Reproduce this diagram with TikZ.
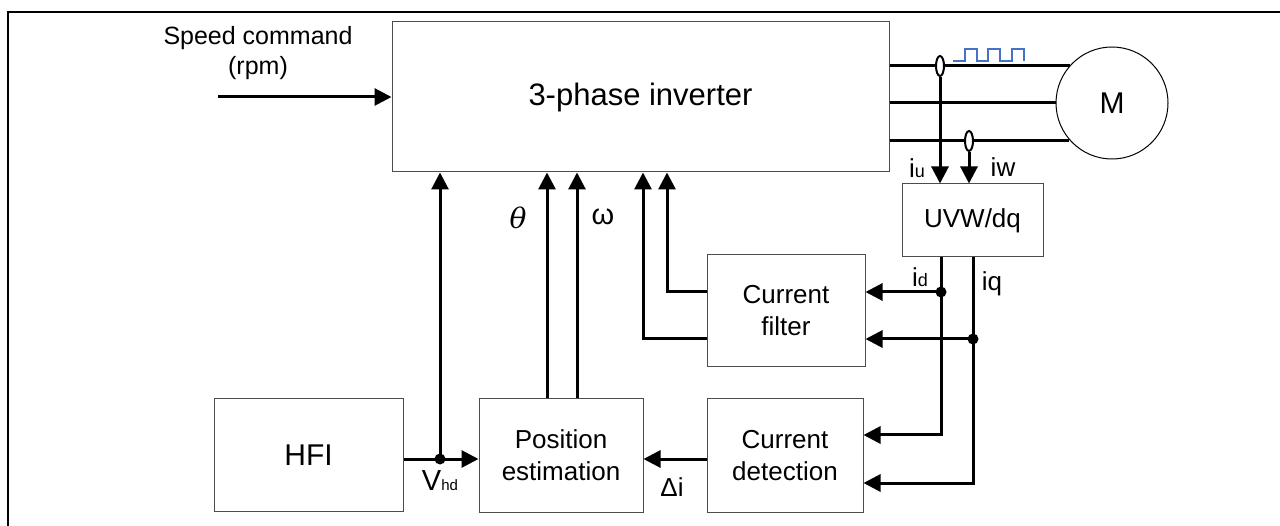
\documentclass[tikz,border=0pt]{standalone}
\usepackage{fontspec}
\setmainfont{Liberation Sans}
\newfontfamily\dvserif{DejaVu Serif}
\usetikzlibrary{arrows.meta,shapes.geometric}
\definecolor{wave}{HTML}{4472C4}
\begin{document}
\begin{tikzpicture}[x=1pt,y=-1pt,
  blk/.style={draw=black!70,line width=1pt,fill=white,inner sep=0pt,align=center,
    font=\fontsize{26}{32}\selectfont},
  conn/.style={line width=3pt},
  arr/.style={conn,-{Triangle[length=17pt,width=17pt]}},
  sensor/.style={ellipse,draw,line width=2pt,fill=white,minimum width=8pt,minimum height=20pt,inner sep=0pt},
  lbl/.style={inner sep=0pt,font=\fontsize{26}{30}\selectfont},
  dot/.style={circle,fill=black,minimum size=11pt,inner sep=0pt}]
\useasboundingbox (0,0) rectangle (1280,526);
% frame
\draw[line width=2.5pt] (8,526) -- (8,12) -- (1280,12);
% blocks
\node[blk,minimum width=497pt,minimum height=150pt,font=\fontsize{31}{36}\selectfont] (inv) at (640.5,97) {3-phase inverter};
\node[blk,minimum width=141pt,minimum height=73pt] (uvw) at (972.5,220.5) {UVW/dq};
\node[blk,minimum width=158pt,minimum height=112pt] (filt) at (786,311) {Current\\filter};
\node[blk,minimum width=156pt,minimum height=113pt] (det) at (785,455.5) {Current\\detection};
\node[blk,minimum width=164pt,minimum height=113pt] (pos) at (561,455.5) {Position\\estimation};
\node[blk,minimum width=189pt,minimum height=112pt,font=\fontsize{30}{36}\selectfont] (hfi) at (308.5,455) {HFI};
% phase lines and motor
\node[circle,draw,line width=1pt,minimum size=112pt,inner sep=0pt,font=\fontsize{30}{36}\selectfont] (M) at (1112,103) {M};
\draw[conn] (inv.east |- M.138.6) -- (M.138.6);
\draw[conn] (inv.east |- M.west) -- (M.west);
\draw[conn] (inv.east |- M.221.4) -- (M.221.4);
% PWM wave
\draw[wave,line width=1.5pt] (953,61) -- (965,61) -- (965,49) -- (977,49) -- (977,61) -- (988,61)
  -- (988,49) -- (1000,49) -- (1000,61) -- (1012,61) -- (1012,49) -- (1024,49) -- (1024,61);
% current sensors
\node[sensor] (s1) at (940,66) {};
\node[sensor] (s2) at (969,141) {};
\draw[arr] (s1.south) -- (s1.south |- uvw.north);
\draw[arr] (s2.south) -- (s2.south |- uvw.north);
\node[lbl] (liu) at (917,168) {i{\fontsize{18}{18}\selectfont u}};
\node[lbl] (liw) at (1003,167) {iw};
% speed command
\node[lbl,align=center,font=\fontsize{25}{30}\selectfont] (spd) at (258,53) {Speed command\\(rpm)};
\coordinate (sp) at (218,97);
\draw[arr] (sp) -- (inv.west |- sp);
% id / iq
\coordinate (jd) at (941,292);
\coordinate (jq) at (973,339);
\coordinate (cd) at (941,435);
\coordinate (cq) at (973,483);
\draw[arr] (uvw.south -| jd) -- (cd) -- (det.east |- cd);
\draw[arr] (uvw.south -| jq) -- (cq) -- (det.east |- cq);
\draw[arr] (jd) -- (filt.east |- jd);
\draw[arr] (jq) -- (filt.east |- jq);
\node[dot] at (jd) {};
\node[dot] at (jq) {};
\node[lbl] (lid) at (920,277) {i{\fontsize{18}{18}\selectfont d}};
\node[lbl] (liq) at (992,284) {iq};
% filter outputs
\coordinate (fo1) at (667,292);
\coordinate (fo2) at (643,339);
\draw[arr] (filt.west |- jd) -- (fo1) -- (fo1 |- inv.south);
\draw[arr] (filt.west |- jq) -- (fo2) -- (fo2 |- inv.south);
% position estimation outputs
\coordinate (th) at (547,300);
\coordinate (om) at (577,300);
\draw[arr] (pos.north -| th) -- (th |- inv.south);
\draw[arr] (pos.north -| om) -- (om |- inv.south);
\node[inner sep=0pt,font=\dvserif\itshape\fontsize{28}{30}\selectfont] (lth) at (518,218) {θ};
\node[lbl,font=\fontsize{29}{30}\selectfont] (lom) at (603,217) {ω};
% HFI and delta i
\coordinate (vh) at (440,459);
\draw[arr] (hfi.east |- vh) -- (pos.west |- vh);
\draw[arr] (vh) -- (vh |- inv.south);
\node[dot] at (vh) {};
\draw[arr] (det.west |- vh) -- (pos.east |- vh);
\node[lbl,font=\fontsize{29}{30}\selectfont] (lvh) at (440,481) {V{\fontsize{15}{15}\selectfont hd}};
\node[lbl] (ldi) at (672,487) {Δi};
\end{tikzpicture}
\end{document}
